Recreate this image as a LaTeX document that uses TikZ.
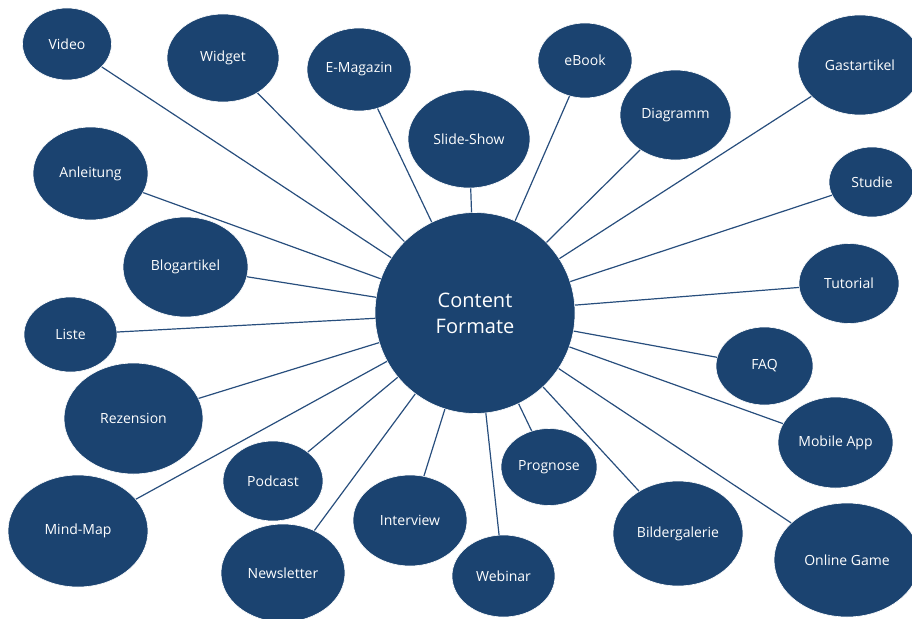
\documentclass[tikz,border=0pt]{standalone}
\usepackage{fontspec}
\setmainfont{Open Sans}
\usetikzlibrary{shapes.geometric}
\definecolor{navy}{RGB}{27,67,112}
\definecolor{linec}{RGB}{40,78,125}
\tikzset{
  blob/.style={ellipse, fill=navy, draw=white, line width=0.6pt, text=white, inner sep=0pt, font=\fontsize{14}{16}\selectfont},
  conn/.style={draw=linec, line width=1.2pt}
}
\newcommand{\blobnode}[6]{\node[blob, minimum width=#4pt, minimum height=#5pt] (#1) at (#2,#3) {#6};}
\begin{document}
\begin{tikzpicture}[x=1pt,y=-1pt]
\useasboundingbox (0,0) rectangle (912,618);
\node[blob, minimum width=200pt, minimum height=201pt, align=center, font=\fontsize{20}{26}\selectfont] (c) at (475,313) {Content\\Formate};
\blobnode{video}{67}{44}{89}{72}{Video}
\blobnode{widget}{223}{58}{112}{88}{Widget}
\blobnode{emag}{359}{69.5}{104}{83}{E-Magazin}
\blobnode{slide}{469}{139}{122}{98}{Slide-Show}
\blobnode{ebook}{585}{60.5}{94}{75}{eBook}
\blobnode{diag}{675.5}{115}{111}{90}{Diagramm}
\blobnode{gast}{860}{65}{124}{100}{Gastartikel}
\blobnode{studie}{872}{182}{86}{70}{Studie}
\blobnode{tut}{849}{283.5}{100}{80}{Tutorial}
\blobnode{faq}{764.5}{366}{97}{78}{FAQ}
\blobnode{mobile}{835.5}{442.5}{115}{91}{Mobile App}
\blobnode{game}{847}{560}{146}{114}{Online Game}
\blobnode{bild}{678}{533.5}{130}{105}{Bildergalerie}
\blobnode{prog}{549}{467}{96}{77}{Prognose}
\blobnode{webinar}{503.5}{576}{103}{82}{Webinar}
\blobnode{interview}{410}{520.5}{114}{91}{Interview}
\blobnode{news}{283}{573}{124}{98}{Newsletter}
\blobnode{podcast}{273}{481}{100}{80}{Podcast}
\blobnode{mind}{78}{531}{140}{112}{Mind-Map}
\blobnode{rez}{133.5}{418.5}{139}{111}{Rezension}
\blobnode{liste}{70.5}{334.5}{93}{75}{Liste}
\blobnode{blog}{185.5}{267}{125}{100}{Blogartikel}
\blobnode{anl}{90.5}{173.5}{115}{93}{Anleitung}
\foreach \n in {video,widget,emag,slide,ebook,diag,gast,studie,tut,faq,mobile,game,bild,prog,webinar,interview,news,podcast,mind,rez,liste,blog,anl}
  \draw[conn] (c) -- (\n);
\end{tikzpicture}
\end{document}
